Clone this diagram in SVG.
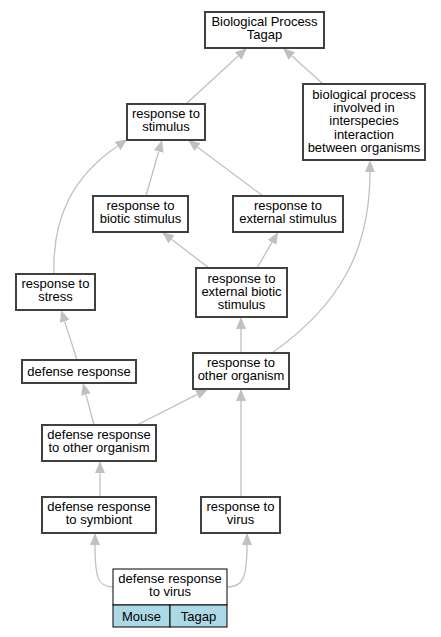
<svg xmlns="http://www.w3.org/2000/svg" width="441" height="637" viewBox="0 0 441 637">
<style>
  .n rect { fill: #ffffff; stroke: #404040; stroke-width: 2; }
  .leaf rect { fill: #ffffff; stroke: #000000; stroke-width: 1; }
  .leaf rect.cell { fill: #add8e6; }
  text { font-family: "Liberation Sans", Arial, sans-serif; font-size: 13px; fill: #000000; text-anchor: middle; }
  .e path { fill: none; stroke: #c0c0c0; stroke-width: 1.3; marker-end: url(#arr); }
</style>
<defs>
  <marker id="arr" markerUnits="userSpaceOnUse" markerWidth="12" markerHeight="10" refX="0" refY="5" orient="auto">
    <path d="M0,0 L12,5 L0,10 z" fill="#c0c0c0"/>
  </marker>
</defs>
<rect width="441" height="637" fill="#ffffff"/>
<g id="edges" class="e">
  <path d="M186,104 L238.2,56.1"/>
  <path d="M323,84 L291.9,56"/>
  <path d="M146,196 L158.7,151.5"/>
  <path d="M263,196 L197.6,147.2"/>
  <path d="M54,274 C52,215 75,175 117.6,146"/>
  <path d="M209,268 L171.5,239.3"/>
  <path d="M257,268 L272,242.4"/>
  <path d="M241,353 L241,329"/>
  <path d="M272,353 C340,305 370,250 370,172"/>
  <path d="M77,360 L64.7,321.4"/>
  <path d="M94,425 L86,394.6"/>
  <path d="M137,425 L197.3,394.4"/>
  <path d="M241,497 L241,401"/>
  <path d="M100,497 L100,473"/>
  <path d="M113,587 C98,587 95,578 95,545"/>
  <path d="M227,587 C243,587 247,578 247,545"/>
</g>
<g id="bp" class="n">
  <rect x="205" y="12" width="119" height="36"/>
  <text x="264.5" y="26">Biological Process</text>
  <text x="264.5" y="39">Tagap</text>
</g>
<g id="stimulus" class="n">
  <rect x="127" y="104" width="78" height="36"/>
  <text x="166" y="117.5">response to</text>
  <text x="166" y="130.5">stimulus</text>
</g>
<g id="interspecies" class="n">
  <rect x="303" y="84" width="122" height="76"/>
  <text x="364" y="99">biological process</text>
  <text x="364" y="112.2">involved in</text>
  <text x="364" y="125.4">interspecies</text>
  <text x="364" y="138.6">interaction</text>
  <text x="364" y="151.8">between organisms</text>
</g>
<g id="biotic" class="n">
  <rect x="93" y="196" width="95" height="36"/>
  <text x="140.5" y="209.5">response to</text>
  <text x="140.5" y="222.5">biotic stimulus</text>
</g>
<g id="external" class="n">
  <rect x="233" y="196" width="110" height="36"/>
  <text x="288" y="209.5">response to</text>
  <text x="288" y="222.5">external stimulus</text>
</g>
<g id="stress" class="n">
  <rect x="16" y="274" width="79" height="36"/>
  <text x="55.5" y="287.5">response to</text>
  <text x="55.5" y="300.5">stress</text>
</g>
<g id="extbiotic" class="n">
  <rect x="196" y="268" width="91" height="49"/>
  <text x="241.5" y="283">response to</text>
  <text x="241.5" y="296">external biotic</text>
  <text x="241.5" y="309">stimulus</text>
</g>
<g id="defense" class="n">
  <rect x="22" y="360" width="114" height="23"/>
  <text x="79" y="376">defense response</text>
</g>
<g id="otherorg" class="n">
  <rect x="193" y="353" width="96" height="36"/>
  <text x="241" y="366.5">response to</text>
  <text x="241" y="379.5">other organism</text>
</g>
<g id="defother" class="n">
  <rect x="42" y="425" width="114" height="36"/>
  <text x="99" y="438.5">defense response</text>
  <text x="99" y="451.5">to other organism</text>
</g>
<g id="symbiont" class="n">
  <rect x="42" y="497" width="114" height="36"/>
  <text x="99" y="510.5">defense response</text>
  <text x="99" y="523.5">to symbiont</text>
</g>
<g id="virus" class="n">
  <rect x="201" y="497" width="79" height="36"/>
  <text x="240.5" y="510.5">response to</text>
  <text x="240.5" y="523.5">virus</text>
</g>
<g id="defvirus" class="leaf">
  <rect x="113" y="569" width="114" height="36"/>
  <rect class="cell" x="113" y="605" width="57" height="22"/>
  <rect class="cell" x="170" y="605" width="57" height="22"/>
  <text x="170" y="582.5">defense response</text>
  <text x="170" y="595.5">to virus</text>
  <text x="141.5" y="620.5">Mouse</text>
  <text x="198.5" y="620.5">Tagap</text>
</g>
</svg>
